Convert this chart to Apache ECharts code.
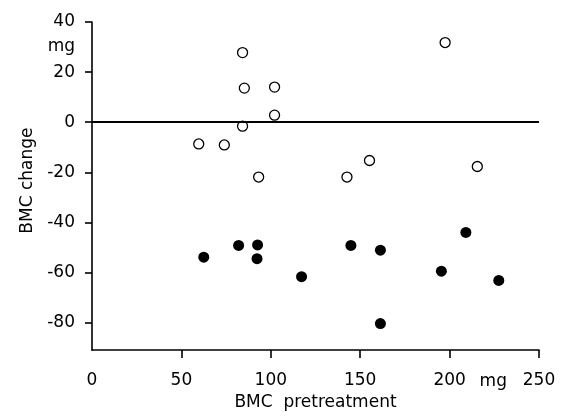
<!DOCTYPE html>
<html>
<head>
<meta charset="utf-8">
<script src="https://cdn.jsdelivr.net/npm/echarts@6/dist/echarts.min.js"></script>
<style>html,body{margin:0;padding:0;background:#fff}#c{width:561px;height:416px}</style>
</head>
<body>
<div id="c"></div>
<script>
// Open circles: BMC pretreatment (mg) vs BMC change (mg)
var openX = [84.2, 85.2, 102.1, 102.1, 84.2, 59.7, 74.0, 93.2, 197.5, 155.2, 142.6, 215.5];
var openY = [27.8, 13.6, 14.0, 2.8, -1.6, -8.7, -9.1, -21.9, 31.8, -15.3, -21.9, -17.7];
// Filled circles
var filledX = [62.5, 82.0, 92.6, 92.3, 117.2, 144.8, 161.3, 161.3, 209.1, 195.4, 227.5];
var filledY = [-53.9, -49.2, -49.0, -54.5, -61.7, -49.2, -51.1, -80.4, -44.0, -59.5, -63.2];
// Axis ticks
var xTickLabels = [0, 50, 100, 150, 200, 250];
var xTickMarks = [50, 100, 150, 200, 250];
var yTicks = [-80, -60, -40, -20, 0, 20, 40];
var xName = 'BMC  pretreatment';
var yName = 'BMC change';
var unit = 'mg';

function pairs(xs, ys) { return xs.map(function (x, i) { return [x, ys[i]]; }); }

var FONT = 'DejaVu Sans';
var chart = echarts.init(document.getElementById('c'), null, { renderer: 'canvas' });
var axisLineStyle = { color: '#000', width: 1.6 };
chart.setOption({
  animation: false,
  backgroundColor: '#fff',
  grid: { left: 92, right: 22, top: 22, bottom: 64 },
  xAxis: {
    type: 'value', min: 0, max: 250,
    name: xName, nameLocation: 'middle', nameGap: 43,
    nameTextStyle: { color: '#000', fontFamily: FONT, fontSize: 17 },
    axisLine: { show: true, onZero: false, lineStyle: axisLineStyle },
    axisTick: { show: true, length: 8, lineStyle: axisLineStyle, customValues: xTickMarks },
    axisLabel: { color: '#000', fontFamily: FONT, fontSize: 17, margin: 22, customValues: xTickLabels },
    splitLine: { show: false }
  },
  yAxis: {
    type: 'value', min: -91, max: 40,
    name: yName, nameLocation: 'middle', nameGap: 56, nameRotate: 90,
    nameTextStyle: { color: '#000', fontFamily: FONT, fontSize: 17, padding: [0, 0, 0, 11] },
    axisLine: { show: true, onZero: false, lineStyle: axisLineStyle },
    axisTick: { show: true, length: 7, lineStyle: axisLineStyle, customValues: yTicks },
    axisLabel: { color: '#000', fontFamily: FONT, fontSize: 17, margin: 17, customValues: yTicks },
    splitLine: { show: false }
  },
  series: [
    {
      type: 'scatter', data: pairs(openX, openY), symbol: 'circle', symbolSize: 10,
      itemStyle: { color: '#fff', borderColor: '#000', borderWidth: 1.3, opacity: 1 },
      emphasis: { disabled: true },
      markLine: {
        silent: true, symbol: 'none', label: { show: false },
        lineStyle: { color: '#000', width: 1.8, type: 'solid' },
        data: [{ yAxis: 0 }]
      },
      z: 3
    },
    {
      type: 'scatter', data: pairs(filledX, filledY), symbol: 'circle', symbolSize: 11,
      itemStyle: { color: '#000', opacity: 1 }, emphasis: { disabled: true }, z: 3
    }
  ]
});

var p200 = chart.convertToPixel({ gridIndex: 0 }, [200, -91]);
var p40 = chart.convertToPixel({ gridIndex: 0 }, [0, 40]);
chart.setOption({
  graphic: [
    { type: 'text', x: p200[0] + 30, y: p200[1] + 31,
      style: { text: unit, fill: '#000', font: '17px "' + FONT + '"', align: 'left', verticalAlign: 'middle' } },
    { type: 'text', x: p40[0] - 17, y: p40[1] + 25,
      style: { text: unit, fill: '#000', font: '17px "' + FONT + '"', align: 'right', verticalAlign: 'middle' } }
  ]
});
</script>
</body>
</html>
